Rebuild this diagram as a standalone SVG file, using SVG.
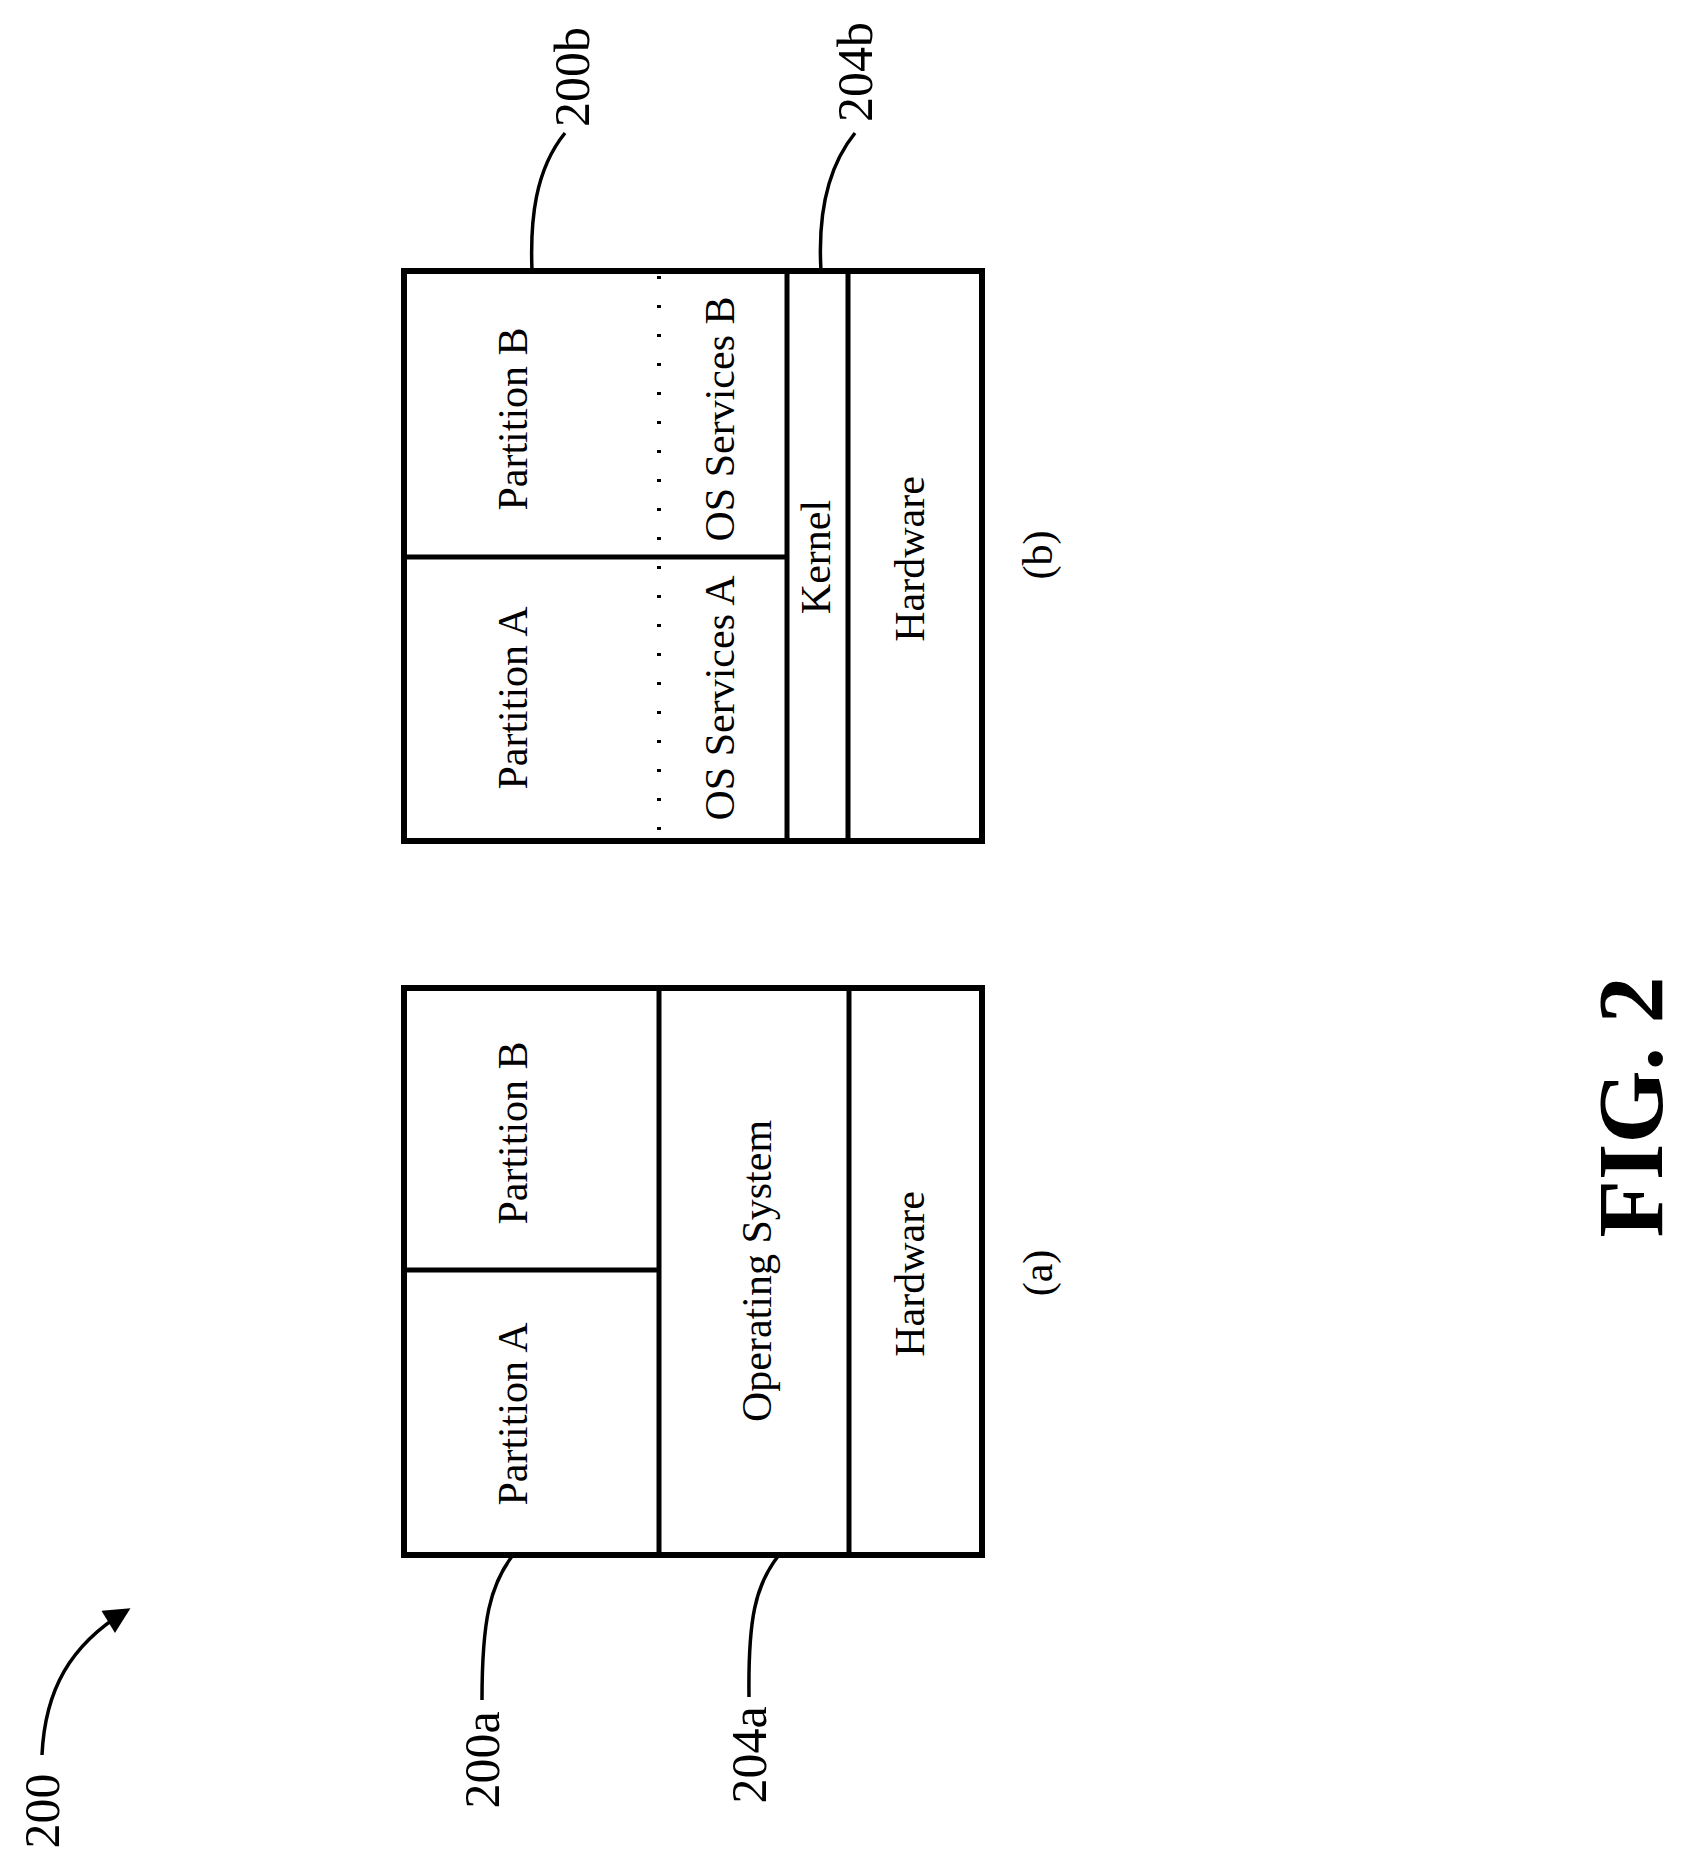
<svg xmlns="http://www.w3.org/2000/svg" width="1693" height="1870" viewBox="0 0 1693 1870">
<style>
.box{fill:none;stroke:#000;stroke-width:6}
.ln{stroke:#000;stroke-width:5;fill:none}
.dot{stroke:#000;stroke-width:4;stroke-dasharray:3 26;fill:none}
.t{font-family:"Liberation Serif",serif;font-size:42px;text-anchor:middle;dominant-baseline:central;fill:#000}
.lab{font-family:"Liberation Serif",serif;font-size:50px;text-anchor:middle;dominant-baseline:central;fill:#000}
.fig{font-family:"Liberation Serif",serif;font-size:94px;font-weight:bold;text-anchor:middle;dominant-baseline:central;fill:#000}
.lead{stroke:#000;stroke-width:3.5;fill:none}
</style>
<defs><marker id="ah" viewBox="0 0 10 10" refX="9" refY="5" markerWidth="8" markerHeight="8" markerUnits="userSpaceOnUse" orient="auto"><path d="M0,0 L10,5 L0,10 z" fill="#000"/></marker>
<marker id="ah2" viewBox="0 0 10 10" refX="8" refY="5" markerWidth="30" markerHeight="26" markerUnits="userSpaceOnUse" orient="auto"><path d="M0,0 L10,5 L0,10 z" fill="#000"/></marker></defs>
<g id="diagram-b">
<rect class="box" x="404" y="271" width="578" height="570"/>
<line class="ln" x1="404" y1="557" x2="787" y2="557"/>
<line class="dot" x1="659" y1="276" x2="659" y2="838"/>
<line class="ln" x1="787" y1="271" x2="787" y2="841"/>
<line class="ln" x1="848" y1="271" x2="848" y2="841"/>
<text class="t" transform="translate(513,698) rotate(-90)">Partition A</text>
<text class="t" transform="translate(513,419) rotate(-90)">Partition B</text>
<text class="t" transform="translate(720,698) rotate(-90)">OS Services A</text>
<text class="t" transform="translate(720,419) rotate(-90)">OS Services B</text>
<text class="t" transform="translate(816,557) rotate(-90)">Kernel</text>
<text class="t" transform="translate(910,559) rotate(-90)">Hardware</text>
<text class="t" transform="translate(1038,555) rotate(-90)">(b)</text>
</g>
<g id="diagram-a">
<rect class="box" x="404" y="988" width="578" height="567"/>
<line class="ln" x1="404" y1="1270" x2="659" y2="1270"/>
<line class="ln" x1="659" y1="988" x2="659" y2="1555"/>
<line class="ln" x1="849" y1="988" x2="849" y2="1555"/>
<text class="t" transform="translate(513,1414) rotate(-90)">Partition A</text>
<text class="t" transform="translate(513,1133) rotate(-90)">Partition B</text>
<text class="t" transform="translate(757,1271) rotate(-90)">Operating System</text>
<text class="t" transform="translate(910,1274) rotate(-90)">Hardware</text>
<text class="t" transform="translate(1038,1273) rotate(-90)">(a)</text>
</g>
<g id="connectors">
<path class="lead" d="M513,1555 C490,1585 482,1620 482,1700"/>
<path class="lead" d="M779,1555 C755,1585 748,1620 749,1697"/>
<path class="lead" d="M532,271 C530,220 535,170 565,133"/>
<path class="lead" d="M821,271 C818,220 825,170 855,133"/>
<path class="lead" d="M42,1755 C45,1690 70,1645 126,1611" marker-end="url(#ah2)"/>
</g>
<g id="labels">
<text class="lab" transform="translate(42,1811) rotate(-90)">200</text>
<text class="lab" transform="translate(482,1760) rotate(-90)">200a</text>
<text class="lab" transform="translate(749,1755) rotate(-90)">204a</text>
<text class="lab" transform="translate(572,77) rotate(-90)">200b</text>
<text class="lab" transform="translate(855,72) rotate(-90)">204b</text>
<text class="fig" transform="translate(1630,1107) rotate(-90)">FIG. 2</text>
</g>
</svg>
